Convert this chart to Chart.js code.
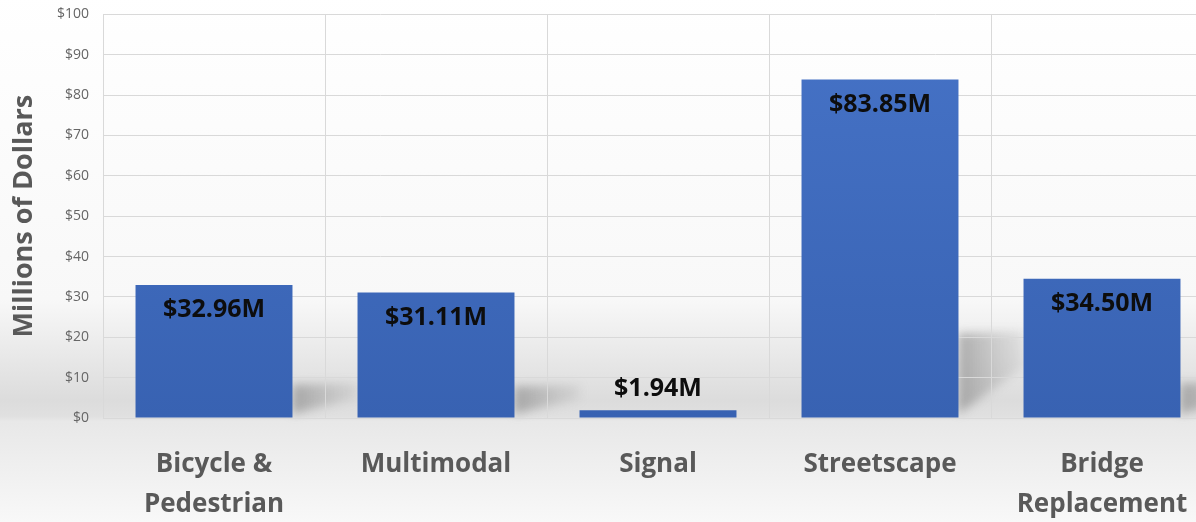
<!DOCTYPE html>
<html>
<head>
<meta charset="utf-8">
<script src="https://cdn.jsdelivr.net/npm/chart.js@4/dist/chart.umd.min.js"></script>
<style>
  html, body { margin: 0; padding: 0; overflow: hidden; background: #fff; }
  #wrap { position: relative; top: -8px; width: 1215px; height: 530px; }
</style>
</head>
<body>
<div id="wrap"><canvas id="funding-chart"></canvas></div>
<script>
const categories = [["Bicycle &", "Pedestrian"], "Multimodal", "Signal", "Streetscape", ["Bridge", "Replacement"]];
const amounts = [32.96, 31.11, 1.94, 83.85, 34.50];
const amountLabels = ["$32.96M", "$31.11M", "$1.94M", "$83.85M", "$34.50M"];
const yTicks = [0, 10, 20, 30, 40, 50, 60, 70, 80, 90, 100];

const labelFont = "'Open Sans', sans-serif";

// grey floor behind the plot plus a soft cast shadow to the right of each bar
const backdrop = {
  id: "backdrop",
  beforeDraw(chart) {
    const { ctx, width, height, chartArea } = chart;
    ctx.save();
    const g = ctx.createLinearGradient(0, 0, 0, height);
    g.addColorStop(0, "#ffffff");
    g.addColorStop(0.58, "#f8f8f8");
    g.addColorStop(0.77, "#dcdcdc");
    g.addColorStop(0.8, "#e0e0e0");
    g.addColorStop(0.81, "#e8e8e8");
    g.addColorStop(1, "#f8f8f8");
    ctx.fillStyle = g;
    ctx.fillRect(0, 0, width, height);

    const meta = chart.getDatasetMeta(0);
    const base = chartArea.bottom;
    ctx.filter = "blur(5px)";
    meta.data.forEach((bar) => {
      const right = bar.x + bar.width / 2;
      const rise = (base - bar.y) * 0.25;
      if (rise < 10) return;
      const sg = ctx.createLinearGradient(right, 0, right + 65, 0);
      sg.addColorStop(0, "rgba(120,120,120,0.55)");
      sg.addColorStop(1, "rgba(150,150,150,0.15)");
      ctx.fillStyle = sg;
      ctx.beginPath();
      ctx.moveTo(right, base - 4);
      ctx.lineTo(right, base - rise);
      ctx.lineTo(right + 65, base - rise - 2);
      ctx.lineTo(right + 65, base - rise * 0.6);
      ctx.closePath();
      ctx.fill();
    });
    ctx.restore();
  }
};

// value text inside the top of each bar (above it when the bar is short)
const valueLabels = {
  id: "valueLabels",
  afterDatasetsDraw(chart) {
    const { ctx } = chart;
    const meta = chart.getDatasetMeta(0);
    ctx.save();
    ctx.font = "bold 25px " + labelFont;
    ctx.fillStyle = "#0d0d0d";
    ctx.textAlign = "center";
    ctx.textBaseline = "middle";
    meta.data.forEach((bar, i) => {
      const h = chart.chartArea.bottom - bar.y;
      const y = h > 45 ? bar.y + 25 : bar.y - 21;
      ctx.fillText(amountLabels[i], bar.x, y);
    });
    ctx.restore();
  }
};

new Chart("funding-chart", {
  type: "bar",
  data: {
    labels: categories,
    datasets: [{
      data: amounts,
      backgroundColor(context) {
        const area = context.chart.chartArea;
        if (!area) return "#4472c4";
        const g = context.chart.ctx.createLinearGradient(0, area.top, 0, area.bottom);
        g.addColorStop(0, "#4673c7");
        g.addColorStop(1, "#3862b2");
        return g;
      },
      borderWidth: 0,
      barPercentage: 1,
      categoryPercentage: 0.707
    }]
  },
  plugins: [backdrop, valueLabels],
  options: {
    responsive: true,
    maintainAspectRatio: false,
    animation: false,
    layout: { padding: { top: 5, right: 2, left: 0, bottom: 0 } },
    plugins: { legend: { display: false }, tooltip: { enabled: false } },
    scales: {
      x: {
        grid: { color: "#d9d9d9", drawTicks: false, offset: true },
        border: { display: false },
        ticks: {
          color: "#595959",
          padding: 27,
          maxRotation: 0,
          autoSkip: false,
          font: { family: labelFont, size: 26, weight: "bold", lineHeight: 1.52 }
        },
        afterFit(scale) { scale.height = 104; }
      },
      y: {
        min: 0,
        max: 100,
        afterBuildTicks(scale) { scale.ticks = yTicks.map((v) => ({ value: v })); },
        grid: { color: "#d9d9d9", drawTicks: false },
        border: { display: false },
        ticks: {
          color: "#666666",
          padding: 14,
          font: { family: labelFont, size: 14 },
          callback: (v) => "$" + v
        },
        title: {
          display: true,
          text: "Millions of Dollars",
          color: "#595959",
          padding: { top: 8, bottom: 0 },
          font: { family: labelFont, size: 27, weight: "bold" }
        },
        afterFit(scale) { scale.width = 103; }
      }
    }
  }
});
</script>
</body>
</html>
